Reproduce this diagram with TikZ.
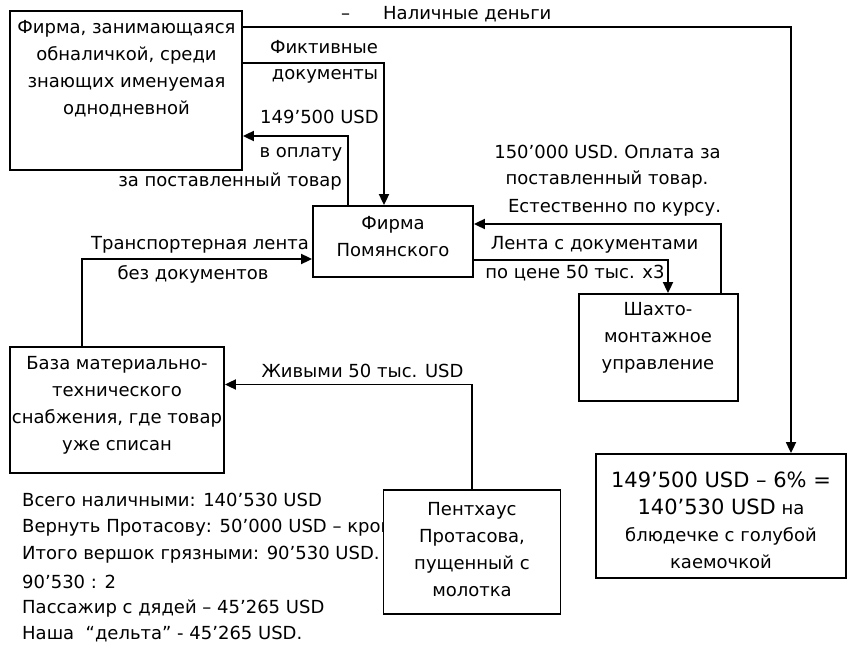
\documentclass[tikz,border=0pt]{standalone}
\usepackage{fontspec}
\setmainfont{DejaVu Sans}
\usetikzlibrary{arrows.meta}
\begin{document}
\begin{tikzpicture}[x=1pt,y=-1pt,
  box/.style={draw, line width=1.8pt, fill=white, inner sep=0pt},
  conn/.style={line width=1.8pt, -{Triangle[length=11pt,width=10pt]}},
  lbl/.style={inner sep=0pt, font=\fontsize{18}{27}\selectfont},
  btxt/.style={align=center, inner sep=0pt, font=\fontsize{18}{27}\selectfont}]
\useasboundingbox (0,0) rectangle (854,652);

% bottom-left list (partly hidden by box E)
\node[lbl, anchor=west] (L1) at (22,500) {Всего наличными: 140’530 USD};
\node[lbl, anchor=west] (L2) at (22,528) {Вернуть Протасову: 50’000 USD – кров};
\node[lbl, anchor=west] (L3) at (22,555) {Итого вершок грязными: 90’530 USD.};
\node[lbl, anchor=west] (L4) at (22,582) {90’530 : 2};
\node[lbl, anchor=west] (L5) at (22,609) {Пассажир с дядей – 45’265 USD};
\node[lbl, anchor=west] (L6) at (22,634) {Наша~ “дельта” - 45’265 USD.};

% boxes
\node[box, minimum width=232pt, minimum height=159pt] (A) at (126,90.5) {};
\node[box, minimum width=160pt, minimum height=71pt] (B) at (393,241.5) {};
\node[box, minimum width=159pt, minimum height=107pt] (C) at (658.5,347.5) {};
\node[box, minimum width=214pt, minimum height=126pt] (D) at (117,410) {};
\node[box, minimum width=177pt, minimum height=124pt] (E) at (472,552) {};
\node[box, minimum width=250pt, minimum height=124pt] (F) at (721,516) {};

% box texts
\node[btxt] (At) at (126.5,69) {Фирма, занимающаяся\\обналичкой, среди\\знающих именуемая\\однодневной};
\node[btxt] (Bt) at (393,237) {Фирма\\Помянского};
\node[btxt] (Ct) at (658,338) {Шахто-\\монтажное\\управление};
\node[btxt] (Dt) at (117,405) {База материально-\\технического\\снабжения, где товар\\уже списан};
\node[btxt] (Et) at (472,550) {Пентхаус\\Протасова,\\пущенный с\\молотка};
\node[btxt] (Ft) at (721,520) {{\fontsize{21}{30}\selectfont 149’500 USD – 6\% =}\\{\fontsize{21}{30}\selectfont 140’530 USD} на\\блюдечке с голубой\\каемочкой};

% connectors
\draw[conn] ([yshift=-17pt]A.north east) -| ([xshift=70pt]F.north);
\draw[conn] ([yshift=-53pt]A.north east) -| ([xshift=-9pt]B.north);
\draw[conn] ([xshift=-45pt]B.north) |- ([yshift=-45.5pt]A.east);
\draw[conn] ([xshift=62.5pt]C.north) |- ([yshift=17.5pt]B.east);
\draw[conn] ([yshift=-18.5pt]B.east) -| ([xshift=9.5pt]C.north);
\draw[conn] ([xshift=-35pt]D.north) |- ([yshift=-17.5pt]B.west);
\draw[conn] (E.north) |- ([yshift=25.5pt]D.east);

% connector labels
\node[lbl, anchor=west] (T0) at (341,14) {–\hspace{33pt}Наличные деньги};
\node[lbl] (T1) at (324,47) {Фиктивные};
\node[lbl] (T2) at (325,76) {документы};
\node[lbl, anchor=west] (T3) at (260,117) {149’500 USD};
\node[lbl] (T4) at (301,154) {в оплату};
\node[lbl, anchor=east] (T5) at (342,182) {за поставленный товар};
\node[lbl] (T6) at (607.5,152) {150’000 USD. Оплата за};
\node[lbl] (T7) at (607,180) {поставленный товар.};
\node[lbl] (T8) at (614.5,208) {Естественно по курсу.};
\node[lbl] (T9) at (594.5,245) {Лента с документами};
\node[lbl] (T10) at (575,273) {по цене 50 тыс. x3};
\node[lbl] (T11) at (200,245) {Транспортерная лента};
\node[lbl] (T12) at (193,274) {без документов};
\node[lbl] (T13) at (362.5,371) {Живыми 50 тыс. USD};
\end{tikzpicture}
\end{document}
